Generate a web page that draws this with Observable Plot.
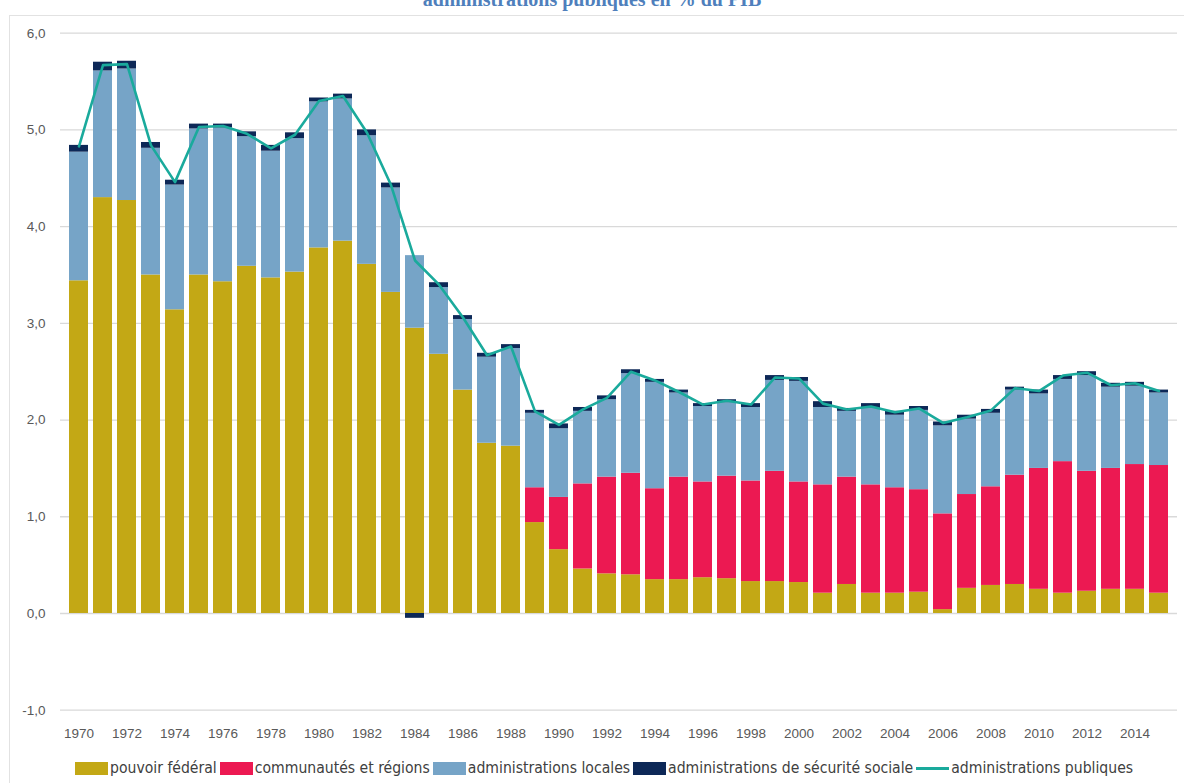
<!DOCTYPE html>
<html>
<head>
<meta charset="utf-8">
<script src="https://cdn.jsdelivr.net/npm/d3@7"></script>
<script src="https://cdn.jsdelivr.net/npm/@observablehq/plot@0.6"></script>
<style>
  html, body { margin: 0; padding: 0; background: #fff; overflow: hidden; }
  #wrap { position: relative; width: 1184px; height: 783px; overflow: hidden; }
  #title { position: absolute; top: -11px; left: 0; width: 1184px; text-align: center;
    font: bold 20px "Liberation Serif", "Times New Roman", serif; color: #4F7FBC; line-height: 20px; }
  #frame { position: absolute; left: 9px; top: 15px; width: 1200px; height: 800px;
    border: 1px solid #e2e2e2; box-sizing: border-box; }
  #chart { position: absolute; left: 0; top: 0; }
  #legend { position: absolute; top: 759px; left: 75px; display: flex; align-items: center;
    font: 15.6px "Liberation Sans Narrow", "DejaVu Sans Condensed", "Liberation Sans", sans-serif; color: #404040; white-space: nowrap; }
  .item { display: flex; align-items: center; margin-right: 3px; }
  .sw { width: 33px; height: 13px; margin-right: 2px; }
  .ln { width: 33px; height: 3px; margin-right: 2px; }
</style>
</head>
<body>
<div id="wrap">
  <div id="frame"></div>
  <div id="title">administrations publiques en % du PIB</div>
  <div id="chart"></div>
  <div id="legend"></div>
</div>
<script>
const years = [1970,1971,1972,1973,1974,1975,1976,1977,1978,1979,1980,1981,1982,1983,1984,1985,1986,1987,1988,1989,
  1990,1991,1992,1993,1994,1995,1996,1997,1998,1999,2000,2001,2002,2003,2004,2005,2006,2007,2008,2009,
  2010,2011,2012,2013,2014,2015];

const seriesNames = ["pouvoir fédéral", "communautés et régions", "administrations locales", "administrations de sécurité sociale"];
const lineName = "administrations publiques";
const seriesColors = ["#C3A815", "#EC1952", "#76A4C7", "#0D2857"];
const lineColor = "#1AAA9C";

const federal = [3.44,4.30,4.27,3.50,3.14,3.50,3.43,3.59,3.47,3.53,3.78,3.85,3.61,3.32,2.95,2.68,2.31,1.76,1.73,0.94,
  0.66,0.46,0.41,0.40,0.35,0.35,0.37,0.36,0.33,0.33,0.32,0.21,0.30,0.21,0.21,0.22,0.04,0.26,0.29,0.30,
  0.25,0.21,0.23,0.25,0.25,0.21];
const communautes = [0,0,0,0,0,0,0,0,0,0,0,0,0,0,0,0,0,0,0,0.36,
  0.54,0.88,1.00,1.05,0.94,1.06,0.99,1.06,1.04,1.14,1.04,1.12,1.11,1.12,1.09,1.06,0.99,0.97,1.02,1.13,
  1.25,1.36,1.24,1.25,1.29,1.32];
const locales = [1.33,1.31,1.36,1.31,1.29,1.51,1.59,1.34,1.31,1.38,1.51,1.47,1.33,1.08,0.75,0.69,0.73,0.89,1.01,0.77,
  0.71,0.75,0.80,1.03,1.10,0.87,0.78,0.76,0.76,0.94,1.04,0.80,0.68,0.79,0.75,0.82,0.91,0.78,0.76,0.88,
  0.77,0.85,0.99,0.84,0.81,0.75];
const securite = [0.07,0.09,0.08,0.06,0.05,0.05,0.04,0.05,0.06,0.06,0.04,0.05,0.06,0.05,-0.05,0.05,0.04,0.04,0.04,0.03,
  0.05,0.04,0.04,0.04,0.03,0.03,0.03,0.03,0.04,0.05,0.04,0.06,0.03,0.05,0.04,0.04,0.04,0.04,0.04,0.03,
  0.04,0.04,0.04,0.04,0.04,0.03];
const total = [4.83,5.67,5.68,4.84,4.46,5.03,5.04,4.96,4.81,4.95,5.30,5.35,4.97,4.43,3.65,3.40,3.06,2.67,2.76,2.09,
  1.95,2.11,2.23,2.50,2.41,2.29,2.16,2.20,2.16,2.44,2.43,2.17,2.11,2.14,2.08,2.12,1.97,2.03,2.10,2.33,
  2.30,2.46,2.49,2.36,2.38,2.30];
const yTicks = [-1, 0, 1, 2, 3, 4, 5, 6];

const seriesValues = [federal, communautes, locales, securite];
const rows = [];
seriesNames.forEach((s, si) => {
  years.forEach((yr, i) => rows.push({year: yr, series: s, value: seriesValues[si][i]}));
});
const lineRows = years.map((yr, i) => ({year: yr, value: total[i]}));

const chart = Plot.plot({
  width: 1184,
  height: 752,
  marginTop: 32.7,
  marginBottom: 42.3,
  marginLeft: 60,
  marginRight: 7,
  style: {fontFamily: "'Liberation Sans', Arial, sans-serif", fontSize: "13.5px", color: "#595959", background: "transparent"},
  x: {type: "band", domain: years, paddingInner: 0.2, paddingOuter: 0.1, label: null,
      tickSize: 0, tickPadding: 18, tickFormat: d => (d % 2 === 0 ? String(d) : "")},
  y: {domain: [-1, 6], ticks: yTicks, label: null, tickSize: 0, tickPadding: 15,
      tickFormat: d => d.toFixed(1).replace(".", ",")},
  color: {domain: seriesNames, range: seriesColors},
  marks: [
    Plot.ruleY(yTicks, {stroke: "#d9d9d9", strokeWidth: 1.3}),
    Plot.barY(rows, {x: "year", y: "value", fill: "series", order: seriesNames}),
    Plot.line(lineRows, {x: "year", y: "value", stroke: lineColor, strokeWidth: 2.6})
  ]
});
document.getElementById("chart").appendChild(chart);

const legend = document.getElementById("legend");
seriesNames.forEach((s, i) => {
  const it = document.createElement("div");
  it.className = "item";
  it.innerHTML = `<div class="sw" style="background:${seriesColors[i]}"></div><span>${s}</span>`;
  legend.appendChild(it);
});
const li = document.createElement("div");
li.className = "item";
li.innerHTML = `<div class="ln" style="background:${lineColor}"></div><span>${lineName}</span>`;
legend.appendChild(li);
</script>
</body>
</html>
